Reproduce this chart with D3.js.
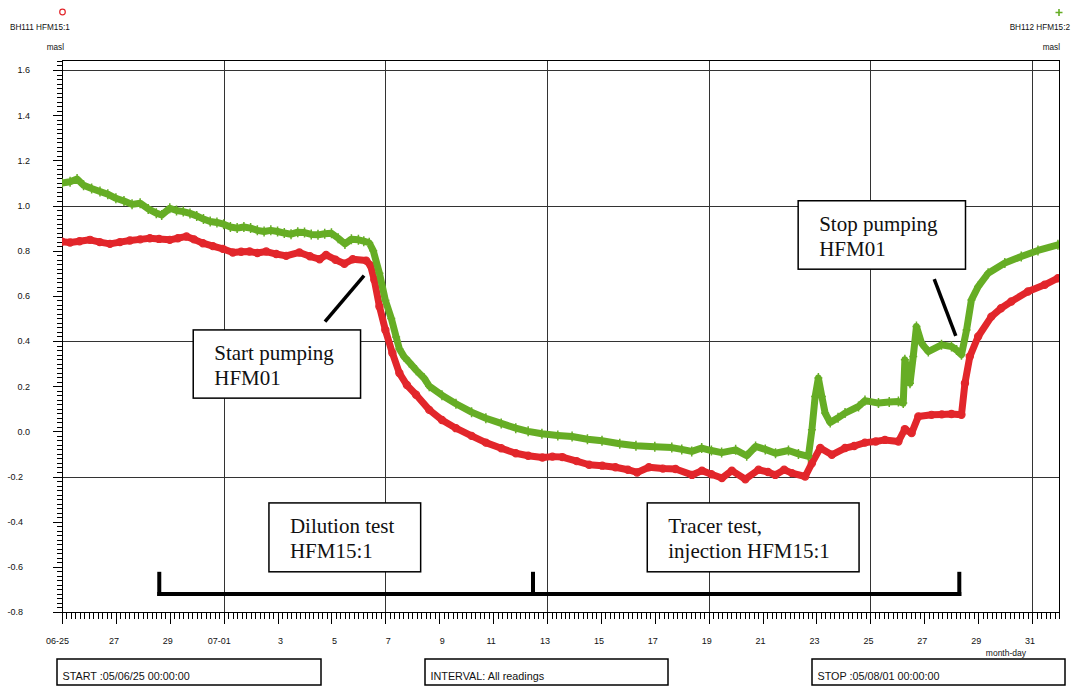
<!DOCTYPE html>
<html>
<head>
<meta charset="utf-8">
<script src="https://cdn.jsdelivr.net/npm/d3@7"></script>
<style>
    body { margin: 0; background: #fff; }
    svg text { font-family: "Liberation Sans", Arial, sans-serif; fill: #111; }
    svg text.note { font-family: "Liberation Serif", "Times New Roman", serif; font-size: 21px; }
</style>
</head>
<body>
<svg id="chart" width="1074" height="689"></svg>
<script>
// readings, in days since 2005-06-25 00:00
var bh111Days = [0, 0.3, 0.65, 1.04, 1.4, 1.78, 2.15, 2.52, 2.9, 3.26, 3.6, 4.0, 4.3, 4.62, 4.9, 5.23, 5.6, 5.97,
    6.34, 6.65, 6.96, 7.25, 7.58, 7.95, 8.32, 8.81, 9.2, 9.56, 9.8, 10.15, 10.48, 10.79, 11.29, 11.45, 11.59, 11.78,
    12.0, 12.26, 12.52, 12.8, 13.14, 13.63, 14.1, 14.62, 15.2, 15.73, 16.3, 16.84, 17.3, 17.83, 18.2, 18.57, 19.1,
    19.56, 20.05, 20.54, 21.0, 21.34, 21.78, 22.3, 22.77, 23.38, 23.75, 24.1, 24.49, 24.86, 25.36, 25.85, 26.2,
    26.47, 26.8, 27.09, 27.58, 27.83, 28.14, 28.57, 29.06, 29.4, 29.8, 30.2, 30.54, 31.04, 31.28, 31.53, 31.78,
    32.27, 32.65, 33.01, 33.38, 33.51, 33.69, 34.0, 34.49, 34.85, 35.23, 35.85, 36.47, 36.96];
var bh111Level = [0.840, 0.836, 0.842, 0.848, 0.838, 0.830, 0.838, 0.845, 0.850, 0.855, 0.852, 0.848, 0.855, 0.863,
    0.850, 0.833, 0.820, 0.808, 0.792, 0.795, 0.796, 0.790, 0.796, 0.785, 0.777, 0.792, 0.775, 0.762, 0.781, 0.760,
    0.742, 0.762, 0.756, 0.735, 0.671, 0.553, 0.449, 0.347, 0.258, 0.205, 0.162, 0.095, 0.050, 0.014, -0.020, -0.050,
    -0.075, -0.097, -0.108, -0.116, -0.112, -0.114, -0.132, -0.148, -0.152, -0.159, -0.170, -0.182, -0.159, -0.165,
    -0.167, -0.193, -0.174, -0.190, -0.207, -0.174, -0.212, -0.170, -0.180, -0.193, -0.170, -0.185, -0.200, -0.141,
    -0.074, -0.104, -0.074, -0.065, -0.050, -0.045, -0.038, -0.045, 0.010, -0.008, 0.066, 0.073, 0.075, 0.077, 0.073,
    0.213, 0.331, 0.420, 0.508, 0.545, 0.575, 0.619, 0.649, 0.678];

var bh112Days = [0, 0.3, 0.56, 0.8, 1.1, 1.41, 1.7, 2.0, 2.3, 2.6, 2.9, 3.2, 3.5, 3.7, 4.0, 4.25, 4.5, 4.75, 5.0,
    5.25, 5.5, 5.75, 6.0, 6.25, 6.5, 6.75, 7.0, 7.25, 7.5, 7.75, 8.0, 8.25, 8.5, 8.75, 9.0, 9.25, 9.5, 9.75, 10.0,
    10.25, 10.5, 10.74, 11.0, 11.2, 11.4, 11.55, 11.78, 12.0, 12.22, 12.4, 12.52, 12.7, 12.89, 13.15, 13.44, 13.63,
    14.1, 14.62, 15.2, 15.73, 16.3, 16.84, 17.3, 17.81, 18.4, 18.93, 19.5, 20.04, 20.7, 21.3, 22.0, 22.63, 23.0,
    23.37, 23.74, 24.1, 24.48, 25.0, 25.41, 25.74, 26.1, 26.48, 26.96, 27.33, 27.7, 27.83, 27.95, 28.07, 28.2, 28.32,
    28.51, 28.8, 29.06, 29.56, 29.8, 30.3, 30.7, 31.04, 31.22, 31.28, 31.47, 31.59, 31.71, 31.9, 32.15, 32.64, 33.01,
    33.2, 33.38, 33.57, 33.75, 34.0, 34.37, 34.99, 35.6, 36.22, 36.96];
var bh112Level = [1.099, 1.105, 1.117, 1.090, 1.075, 1.062, 1.050, 1.032, 1.020, 1.005, 1.010, 0.985, 0.966, 0.958,
    0.988, 0.978, 0.973, 0.965, 0.954, 0.940, 0.929, 0.925, 0.917, 0.905, 0.900, 0.905, 0.900, 0.890, 0.885, 0.890,
    0.885, 0.878, 0.873, 0.882, 0.880, 0.872, 0.870, 0.875, 0.877, 0.855, 0.830, 0.851, 0.848, 0.842, 0.835, 0.800,
    0.700, 0.580, 0.500, 0.418, 0.365, 0.330, 0.305, 0.270, 0.235, 0.200, 0.160, 0.122, 0.085, 0.058, 0.035, 0.014,
    0.000, -0.011, -0.018, -0.023, -0.035, -0.042, -0.055, -0.064, -0.068, -0.072, -0.080, -0.089, -0.074, -0.085,
    -0.094, -0.082, -0.108, -0.067, -0.080, -0.097, -0.085, -0.100, -0.111, 0.007, 0.154, 0.236, 0.154, 0.081, 0.039,
    0.060, 0.081, 0.110, 0.136, 0.125, 0.130, 0.132, 0.125, 0.317, 0.213, 0.331, 0.464, 0.390, 0.353, 0.383, 0.376,
    0.360, 0.339, 0.449, 0.582, 0.641, 0.700, 0.745, 0.774, 0.801, 0.826];

var xTickDays = [0, 2, 4, 6, 8, 10, 12, 14, 16, 18, 20, 22, 24, 26, 28, 30, 32, 34, 36];
var xTickLabels = ["06-25", "27", "29", "07-01", "3", "5", "7", "9", "11", "13", "15", "17", "19", "21", "23",
    "25", "27", "29", "31"];
var xGridDays = [6, 12, 18, 24, 30, 36];
var yTickValues = [-0.8, -0.6, -0.4, -0.2, 0.0, 0.2, 0.4, 0.6, 0.8, 1.0, 1.2, 1.4, 1.6];
var yGridValues = [-0.2, 0.4, 1.0, 1.6];

var seriesNames = ["BH111 HFM15:1", "BH112 HFM15:2"];
var infoTexts = ["START :05/06/25 00:00:00", "INTERVAL: All readings", "STOP :05/08/01 00:00:00"];

var startMs = Date.UTC(2005, 5, 25);
var dayMs = 86400000;

function toDate(day) {
    return new Date(startMs + day * dayMs);
}

var svg = d3.select("#chart");
var plotLeft = 62, plotRight = 1059, plotTop = 60, plotBottom = 612;
var red = "#e2262b", green = "#66ad25";

var x = d3.scaleUtc()
    .domain([toDate(0), toDate(37)])
    .range([plotLeft, plotRight]);
var y = d3.scaleLinear()
    .domain([-0.8, 1.6])
    .range([plotBottom, 70]);

function px(day) { return x(toDate(day)); }
function crisp(v) { return Math.round(v) + 0.5; }

// grid
var grid = svg.append("g").attr("shape-rendering", "crispEdges");
grid.selectAll("line.gx")
    .data(xGridDays)
    .enter().append("line")
    .attr("x1", function (d) { return crisp(px(d)); })
    .attr("x2", function (d) { return crisp(px(d)); })
    .attr("y1", plotTop).attr("y2", plotBottom)
    .attr("stroke", "#333");
grid.selectAll("line.gy")
    .data(yGridValues)
    .enter().append("line")
    .attr("x1", plotLeft).attr("x2", plotRight)
    .attr("y1", function (d) { return crisp(y(d)); })
    .attr("y2", function (d) { return crisp(y(d)); })
    .attr("stroke", "#333");

// frame
svg.append("rect")
    .attr("x", plotLeft + 0.5).attr("y", plotTop + 0.5)
    .attr("width", plotRight - plotLeft).attr("height", plotBottom - plotTop)
    .attr("fill", "none").attr("stroke", "#000")
    .attr("shape-rendering", "crispEdges");

// minor ticks: every 0.02 masl on y (up to the frame top), every 4 hours on x
var yMinor = [];
for (var k = -40; y(k / 50) >= plotTop; k++) {
    yMinor.push(k / 50);
}
var yMinorPath = yMinor.map(function (d) {
    return "M" + (plotLeft - 5) + "," + crisp(y(d)) + "H" + plotLeft;
}).join("");
svg.append("path")
    .attr("d", yMinorPath)
    .attr("stroke", "#000")
    .attr("stroke-width", 1)
    .attr("shape-rendering", "crispEdges");

var xMinor = d3.utcHour.every(4).range(toDate(0), toDate(37.01));
var xMinorPath = xMinor.map(function (d) {
    return "M" + crisp(x(d)) + "," + plotBottom + "V" + (plotBottom + 7);
}).join("");
svg.append("path")
    .attr("d", xMinorPath)
    .attr("stroke", "#000")
    .attr("stroke-width", 1)
    .attr("shape-rendering", "crispEdges");

// major ticks and labels
var yAxis = svg.append("g")
    .attr("transform", "translate(" + (plotLeft + 0.5) + ",0)")
    .call(d3.axisLeft(y).tickValues(yTickValues).tickSize(10)
        .tickFormat(function (d) { return d.toFixed(1); }))
    .attr("shape-rendering", "crispEdges");
yAxis.select(".domain").remove();
yAxis.selectAll("text")
    .attr("text-anchor", "start")
    .attr("font-size", 9)
    .attr("font-family", null)
    .attr("x", function (d) { return (d < 0 ? 7 : 17) - plotLeft; });

var xAxis = svg.append("g")
    .attr("transform", "translate(0," + (plotBottom + 0.5) + ")")
    .call(d3.axisBottom(x).tickValues(xTickDays.map(toDate)).tickSize(11)
        .tickFormat(function (d, i) { return xTickLabels[i]; }))
    .attr("shape-rendering", "crispEdges");
xAxis.select(".domain").remove();
xAxis.selectAll("text")
    .attr("font-size", 9)
    .attr("font-family", null)
    .attr("y", 25)
    .attr("dx", function (d, i) {
        var n = xTickLabels[i].length;
        return n === 1 ? 2.5 : (n === 2 ? -2.5 : -5);
    });

svg.append("text")
    .attr("x", 1026).attr("y", 656)
    .attr("text-anchor", "end")
    .attr("font-size", 8.5)
    .text("month-day");

// series
svg.append("clipPath").attr("id", "plot-clip")
    .append("rect")
    .attr("x", plotLeft).attr("y", plotTop)
    .attr("width", plotRight - plotLeft).attr("height", plotBottom - plotTop);

function drawSeries(days, levels, color, marker) {
    var pts = days.map(function (d, i) { return [px(d), y(levels[i])]; });
    var g = svg.append("g").attr("clip-path", "url(#plot-clip)");
    g.append("path")
        .attr("d", d3.line()(pts))
        .attr("fill", "none")
        .attr("stroke", color)
        .attr("stroke-width", 7)
        .attr("stroke-linejoin", "round")
        .attr("stroke-linecap", "round");
    if (marker === "circle") {
        g.selectAll("circle")
            .data(pts)
            .enter().append("circle")
            .attr("cx", function (p) { return p[0]; })
            .attr("cy", function (p) { return p[1]; })
            .attr("r", 3.6)
            .attr("fill", "none")
            .attr("stroke", color)
            .attr("stroke-width", 1.2);
    } else {
        g.selectAll("path.mark")
            .data(pts)
            .enter().append("path")
            .classed("mark", true)
            .attr("d", function (p) {
                return "M" + (p[0] - 4) + "," + p[1] + "h8M" + p[0] + "," + (p[1] - 5) + "v10";
            })
            .attr("stroke", color)
            .attr("stroke-width", 1.5);
    }
}

drawSeries(bh111Days, bh111Level, red, "circle");
drawSeries(bh112Days, bh112Level, green, "plus");

// legend
svg.append("circle")
    .attr("cx", 62.5).attr("cy", 12).attr("r", 2.8)
    .attr("fill", "none").attr("stroke", red).attr("stroke-width", 1.2);
svg.append("path")
    .attr("d", "M1055.5,12.5h7M1059,9v7")
    .attr("stroke", green).attr("stroke-width", 1.6);
svg.append("text").attr("x", 10).attr("y", 30).attr("font-size", 8.2).text(seriesNames[0]);
svg.append("text").attr("x", 1070).attr("y", 30).attr("font-size", 8.2)
    .attr("text-anchor", "end").text(seriesNames[1]);
svg.append("text").attr("x", 64).attr("y", 50).attr("font-size", 8.2)
    .attr("text-anchor", "end").text("masl");
svg.append("text").attr("x", 1060).attr("y", 50).attr("font-size", 8.2)
    .attr("text-anchor", "end").text("masl");

// annotations, anchored in chart coordinates
var notes = [
    { lines: ["Start pumping", "HFM01"], d0: 4.87, d1: 11.08, v0: 0.449, v1: 0.147 },
    { lines: ["Stop pumping", "HFM01"], d0: 27.32, d1: 33.53, v0: 1.021, v1: 0.718 },
    { lines: ["Dilution test", "HFM15:1"], d0: 7.68, d1: 13.31, v0: -0.317, v1: -0.622 },
    { lines: ["Tracer test,", "injection HFM15:1"], d0: 21.72, d1: 29.58, v0: -0.317, v1: -0.622 }
];
var pointers = [
    [[9.76, 0.486], [11.21, 0.689]],
    [[32.37, 0.674], [33.17, 0.423]]
];

pointers.forEach(function (p) {
    svg.append("line")
        .attr("x1", px(p[0][0])).attr("y1", y(p[0][1]))
        .attr("x2", px(p[1][0])).attr("y2", y(p[1][1]))
        .attr("stroke", "#000").attr("stroke-width", 3.5);
});

notes.forEach(function (n) {
    var bx = px(n.d0), by = y(n.v0);
    svg.append("rect")
        .attr("x", bx).attr("y", by)
        .attr("width", px(n.d1) - bx).attr("height", y(n.v1) - by)
        .attr("fill", "#fff").attr("stroke", "#000").attr("stroke-width", 1.5);
    n.lines.forEach(function (t, i) {
        svg.append("text")
            .classed("note", true)
            .attr("x", bx + 21)
            .attr("y", by + 30.5 + i * 25)
            .text(t);
    });
});

// test interval bracket
var bracketDays = [3.61, 17.48, 33.3];
var bracketLow = -0.72, bracketHigh = -0.622;
svg.append("line")
    .attr("x1", px(bracketDays[0]) - 2).attr("x2", px(bracketDays[2]) + 2)
    .attr("y1", y(bracketLow)).attr("y2", y(bracketLow))
    .attr("stroke", "#000").attr("stroke-width", 4);
svg.selectAll("line.bracket")
    .data(bracketDays)
    .enter().append("line")
    .classed("bracket", true)
    .attr("x1", function (d) { return px(d); })
    .attr("x2", function (d) { return px(d); })
    .attr("y1", y(bracketHigh))
    .attr("y2", y(bracketLow) + 2)
    .attr("stroke", "#000").attr("stroke-width", 4);

// info boxes below the chart
var infoBoxes = [[57, 321], [425, 668], [812, 1065]];
infoBoxes.forEach(function (b, i) {
    svg.append("rect")
        .attr("x", b[0]).attr("y", 659)
        .attr("width", b[1] - b[0]).attr("height", 26)
        .attr("fill", "none").attr("stroke", "#000").attr("stroke-width", 1.5);
    svg.append("text")
        .attr("x", b[0] + 5.5).attr("y", 679.5)
        .attr("font-size", 10.8)
        .text(infoTexts[i]);
});
</script>
</body>
</html>
